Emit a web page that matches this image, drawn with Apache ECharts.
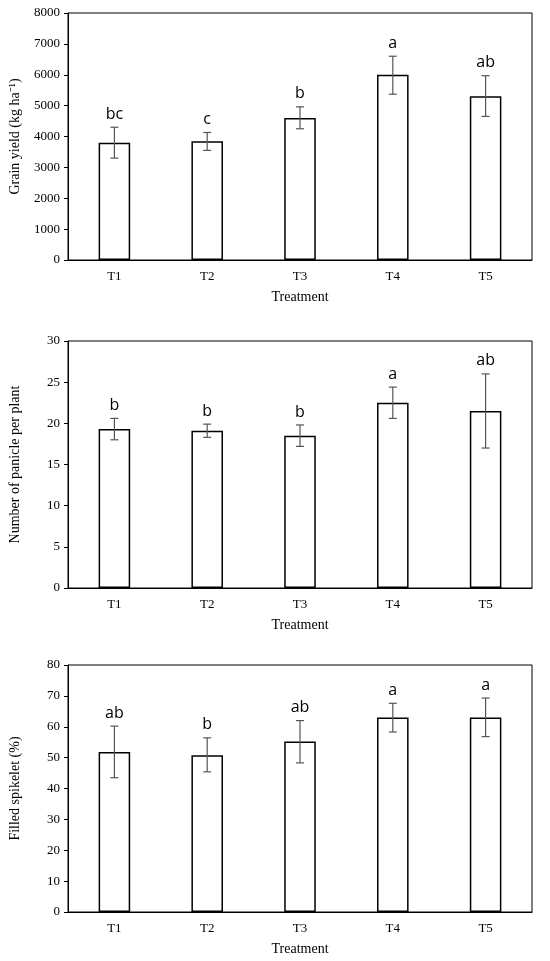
<!doctype html>
<html>
<head>
<meta charset="utf-8">
<script src="https://cdn.jsdelivr.net/npm/echarts@6/dist/echarts.min.js"></script>
<style>html,body{margin:0;padding:0;background:#fff}#c{width:550px;height:961px}</style>
</head>
<body>
<div id="c"></div>
<script>
var cats = ['T1', 'T2', 'T3', 'T4', 'T5'];
// grain yield
var yieldVal = [3800, 3850, 4600, 6000, 5300];
var yieldLo = [3300, 3550, 4250, 5370, 4650];
var yieldHi = [4300, 4130, 4960, 6600, 5970];
var yieldLet = ['bc', 'c', 'b', 'a', 'ab'];
// panicles
var panVal = [19.3, 19.1, 18.5, 22.5, 21.5];
var panLo = [18.0, 18.3, 17.2, 20.6, 17.0];
var panHi = [20.6, 19.9, 19.8, 24.4, 26.0];
var panLet = ['b', 'b', 'b', 'a', 'ab'];
// filled spikelet
var fillVal = [51.8, 50.8, 55.2, 63.0, 63.0];
var fillLo = [43.5, 45.4, 48.3, 58.3, 56.8];
var fillHi = [60.2, 56.4, 62.0, 67.6, 69.3];
var fillLet = ['ab', 'b', 'ab', 'a', 'a'];

var panels = [
  {top: 13, max: 8000, interval: 1000, name: 'Grain yield (kg ha⁻¹)', v: yieldVal, lo: yieldLo, hi: yieldHi, let: yieldLet},
  {top: 341, max: 30, interval: 5, name: 'Number of panicle per plant', v: panVal, lo: panLo, hi: panHi, let: panLet},
  {top: 665, max: 80, interval: 10, name: 'Filled spikelet (%)', v: fillVal, lo: fillLo, hi: fillHi, let: fillLet}
];

var serif = 'Liberation Serif';
var grid = [], xAxis = [], yAxis = [], series = [];
panels.forEach(function (p, i) {
  grid.push({left: 66, right: 18, top: p.top, height: 247, show: true, borderColor: '#000', borderWidth: 1});
  xAxis.push({
    type: 'category', data: cats, gridIndex: i,
    name: 'Treatment', nameLocation: 'middle', nameGap: 30,
    nameTextStyle: {fontFamily: serif, fontSize: 14, color: '#000'},
    axisLine: {lineStyle: {color: '#000'}}, axisTick: {show: false},
    axisLabel: {fontFamily: serif, fontSize: 13, color: '#000', margin: 10}
  });
  yAxis.push({
    type: 'value', min: 0, max: p.max, interval: p.interval, gridIndex: i,
    name: p.name, nameLocation: 'middle', nameGap: 46,
    nameTextStyle: {fontFamily: serif, fontSize: 14, color: '#000'},
    axisLine: {show: true, lineStyle: {color: '#000'}},
    axisTick: {show: true, length: 4, inside: false, lineStyle: {color: '#000'}},
    splitLine: {show: false},
    axisLabel: {fontFamily: serif, fontSize: 13, color: '#000', formatter: function (v) { return String(v); }}
  });
  series.push({
    type: 'bar', xAxisIndex: i, yAxisIndex: i, data: p.v, barWidth: '34%',
    itemStyle: {color: '#fff', borderColor: '#000', borderWidth: 1.5}, silent: true
  });
  series.push({
    type: 'custom', xAxisIndex: i, yAxisIndex: i, z: 10, silent: true,
    data: p.v.map(function (v, k) { return [k, p.lo[k], p.hi[k]]; }),
    renderItem: function (params, api) {
      var lo = api.coord([api.value(0), api.value(1)]);
      var hi = api.coord([api.value(0), api.value(2)]);
      var x = lo[0], w = 4;
      var st = {stroke: '#555', lineWidth: 1.2};
      return {type: 'group', children: [
        {type: 'line', shape: {x1: x, y1: lo[1], x2: x, y2: hi[1]}, style: st},
        {type: 'line', shape: {x1: x - w, y1: lo[1], x2: x + w, y2: lo[1]}, style: st},
        {type: 'line', shape: {x1: x - w, y1: hi[1], x2: x + w, y2: hi[1]}, style: st},
        {type: 'text', x: x, y: hi[1] - 5, style: {
          text: p.let[params.dataIndex], fill: '#000', fontSize: 16,
          fontFamily: 'Open Sans', align: 'center', verticalAlign: 'bottom'}}
      ]};
    }
  });
});

var chart = echarts.init(document.getElementById('c'));
chart.setOption({animation: false, grid: grid, xAxis: xAxis, yAxis: yAxis, series: series});
</script>
</body>
</html>
